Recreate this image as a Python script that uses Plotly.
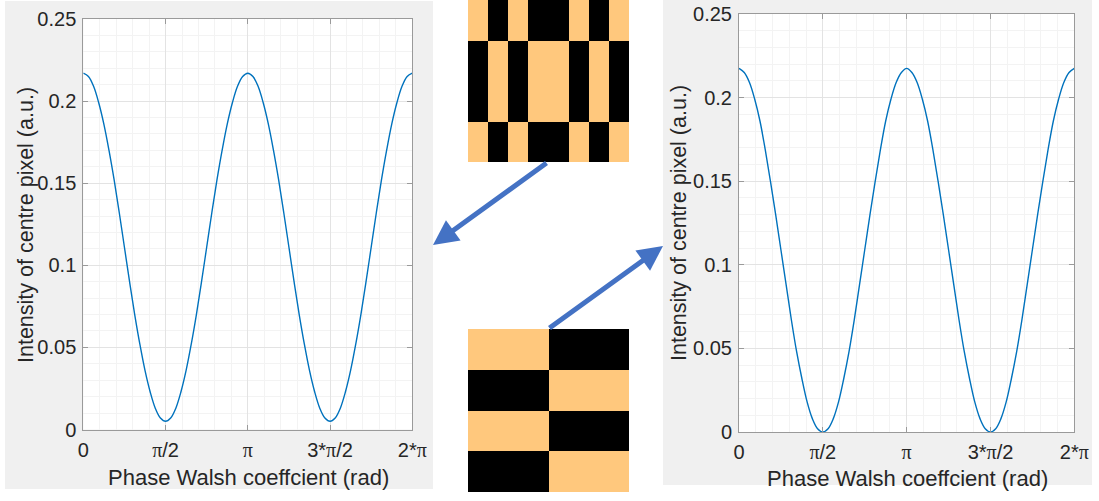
import math
import plotly.graph_objects as go

W, H = 1099, 501
PI = math.pi

# ---------------- data ----------------
# phase samples (rad): k*pi/32, k = 0..64
phase_step_count = 64
phase = [k * PI / 32 for k in range(phase_step_count + 1)]

# intensity (pattern 1, minima ~0.005)
left_half = [0.217, 0.215, 0.209, 0.199, 0.186, 0.170, 0.152, 0.132, 0.111,
             0.090, 0.070, 0.052, 0.036, 0.023, 0.013, 0.007, 0.005]
left_intensity = (left_half + left_half[-2::-1]) + (left_half[1:] + left_half[-2::-1])

# intensity (pattern 2, minima ~0)
right_half = [0.2175, 0.215, 0.209, 0.199, 0.186, 0.169, 0.150, 0.130, 0.109,
              0.088, 0.067, 0.048, 0.032, 0.018, 0.008, 0.002, 0.000]
right_intensity = (right_half + right_half[-2::-1]) + (right_half[1:] + right_half[-2::-1])

x_tick_vals = [0, PI / 2, PI, 3 * PI / 2, 2 * PI]
PI_S = '<span style="font-family:Liberation Serif">π</span>'
x_tick_text = ["0", PI_S + "/2", PI_S, "3*" + PI_S + "/2", "2*" + PI_S]
y_tick_vals = [0, 0.05, 0.1, 0.15, 0.2, 0.25]
y_tick_text = ["0", "0.05", "0.1", "0.15", "0.2", "0.25"]

x_title = "Phase Walsh coeffcient (rad)"
y_title = "Intensity of centre pixel (a.u.)"

# Walsh patterns: 1 = orange, 0 = black
top_pattern = [
    [1, 0, 1, 0, 0, 1, 0, 1],
    [0, 1, 0, 1, 1, 0, 1, 0],
    [0, 1, 0, 1, 1, 0, 1, 0],
    [1, 0, 1, 0, 0, 1, 0, 1],
]
bottom_pattern = [
    [1, 0],
    [0, 1],
    [1, 0],
    [0, 1],
]

LINE_COLOR = "#0072BD"
ORANGE = "#FFC87D"
ARROW = "#4472C4"
FONT = "Liberation Sans"
TXT = "#262626"


def px_x(a, b):
    return [a / W, b / W]


def px_y(top, bottom):
    return [1 - bottom / H, 1 - top / H]


fig = go.Figure()

fig.add_trace(go.Scatter(x=phase, y=left_intensity, mode="lines",
                         line=dict(color=LINE_COLOR, width=1.4, shape="spline"),
                         xaxis="x", yaxis="y", hoverinfo="skip"))
fig.add_trace(go.Scatter(x=phase, y=right_intensity, mode="lines",
                         line=dict(color=LINE_COLOR, width=1.4, shape="spline"),
                         xaxis="x2", yaxis="y2", hoverinfo="skip"))

cs = [[0, "black"], [1, ORANGE]]
fig.add_trace(go.Heatmap(z=top_pattern, colorscale=cs, zmin=0, zmax=1,
                         showscale=False, hoverinfo="skip",
                         xaxis="x3", yaxis="y3"))
fig.add_trace(go.Heatmap(z=bottom_pattern, colorscale=cs, zmin=0, zmax=1,
                         showscale=False, hoverinfo="skip",
                         xaxis="x4", yaxis="y4"))

axis_line = "#9A9A9A"


def xaxis_common(domain, anchor):
    return dict(
        domain=domain, anchor=anchor, range=[0, 2 * PI], automargin=False,
        tickmode="array", tickvals=x_tick_vals, ticktext=x_tick_text,
        ticks="inside", ticklen=5, tickcolor=axis_line, ticklabelstandoff=2,
        showline=True, linecolor=axis_line, linewidth=1, mirror="ticks",
        showgrid=True, gridcolor="#E3E3E3", gridwidth=1,
        minor=dict(dtick=PI / 10, tick0=0, showgrid=True, gridcolor="#F3F3F3", ticks=""),
        zeroline=False,
        tickfont=dict(family=FONT, size=20, color=TXT),
    )


def yaxis_common(domain, anchor):
    return dict(
        domain=domain, anchor=anchor, range=[0, 0.25], automargin=False,
        tickmode="array", tickvals=y_tick_vals, ticktext=y_tick_text,
        ticks="inside", ticklen=5, tickcolor=axis_line, ticklabelstandoff=2,
        showline=True, linecolor=axis_line, linewidth=1, mirror="ticks",
        showgrid=True, gridcolor="#E3E3E3", gridwidth=1,
        minor=dict(dtick=0.01, tick0=0, showgrid=True, gridcolor="#F3F3F3", ticks=""),
        zeroline=False,
        tickfont=dict(family=FONT, size=20, color=TXT),
    )


hidden = dict(visible=False, showgrid=False, zeroline=False, automargin=False)

layout = dict(
    width=W, height=H,
    margin=dict(l=0, r=0, t=0, b=0, pad=0),
    paper_bgcolor="white", plot_bgcolor="white",
    showlegend=False,
    xaxis=xaxis_common(px_x(83.3, 412.3), "y"),
    yaxis=yaxis_common(px_y(19, 429.5), "x"),
    xaxis2=xaxis_common(px_x(739, 1074.3), "y2"),
    yaxis2=yaxis_common(px_y(14, 432), "x2"),
    xaxis3=dict(domain=px_x(468, 629), anchor="y3", range=[-0.5, 7.5], **hidden),
    yaxis3=dict(domain=px_y(0, 162), anchor="x3", range=[3.5, -0.5], **hidden),
    xaxis4=dict(domain=px_x(468, 629), anchor="y4", range=[-0.5, 1.5], **hidden),
    yaxis4=dict(domain=px_y(329, 492), anchor="x4", range=[3.5, -0.5], **hidden),
)
fig.update_layout(**layout)

# grey figure panels (MATLAB figure backgrounds)
fig.add_shape(type="rect", xref="paper", yref="paper", layer="below",
              x0=5 / W, x1=433 / W, y0=1 - 489 / H, y1=1 - 1 / H,
              fillcolor="#F0F0F0", line=dict(width=0))
fig.add_shape(type="rect", xref="paper", yref="paper", layer="below",
              x0=663 / W, x1=1092 / W, y0=1 - 485 / H, y1=1.0,
              fillcolor="#F0F0F0", line=dict(width=0))
# white axes backgrounds
fig.add_shape(type="rect", xref="x domain", yref="y domain", layer="below",
              x0=0, x1=1, y0=0, y1=1, fillcolor="white", line=dict(width=0))
fig.add_shape(type="rect", xref="x2 domain", yref="y2 domain", layer="below",
              x0=0, x1=1, y0=0, y1=1, fillcolor="white", line=dict(width=0))

# axis titles
title_font = dict(family=FONT, size=22, color=TXT)
for cx, cy in [(248, 477), (907, 478)]:
    fig.add_annotation(xref="paper", yref="paper", x=cx / W, y=1 - cy / H,
                       text=x_title, showarrow=False, font=title_font,
                       xanchor="center", yanchor="middle")
ytitle_font = dict(family=FONT, size=21.5, color=TXT)
for cx, cy in [(26, 225), (679, 223)]:
    fig.add_annotation(xref="paper", yref="paper", x=cx / W, y=1 - cy / H,
                       text=y_title, showarrow=False, font=ytitle_font,
                       textangle=-90, xanchor="center", yanchor="middle")

# arrows linking patterns to plots
fig.add_annotation(xref="paper", yref="paper", x=433 / W, y=1 - 245 / H,
                   axref="pixel", ayref="pixel", ax=115, ay=-83,
                   text="", showarrow=True, arrowhead=2, arrowsize=1,
                   arrowwidth=5, arrowcolor=ARROW, standoff=0)
fig.add_annotation(xref="paper", yref="paper", x=663 / W, y=1 - 246 / H,
                   axref="pixel", ayref="pixel", ax=-115, ay=83,
                   text="", showarrow=True, arrowhead=2, arrowsize=1,
                   arrowwidth=5, arrowcolor=ARROW, standoff=0)

fig.write_html("out.html")
